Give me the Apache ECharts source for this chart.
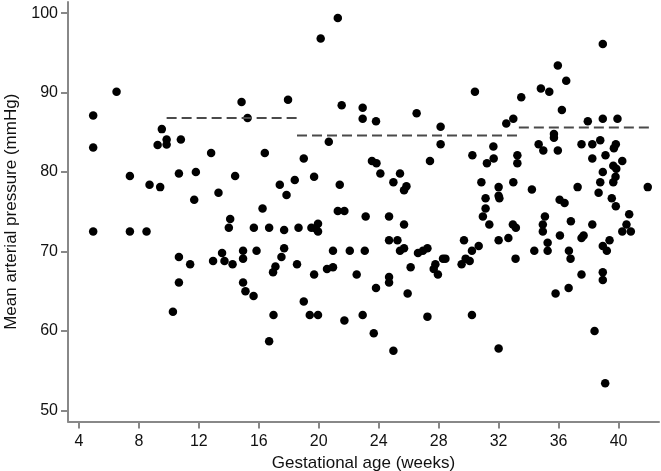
<!DOCTYPE html>
<html>
<head>
<meta charset="utf-8">
<script src="https://cdn.jsdelivr.net/npm/echarts@6/dist/echarts.min.js"></script>
<style>
	html, body { margin: 0; padding: 0; background: #fff; }
	#chart { width: 661px; height: 471px; }
</style>
</head>
<body>
<div id="chart"></div>
<script>
// gestational age (weeks) and mean arterial pressure (mmHg)
var gestAge = [
	4.95,4.95,6.51,9.25,9.53,9.85,9.85,10.8,12.82,13.31,
	7.4,8.71,9.42,10.67,11.8,11.69,4.95,7.4,8.51,10.67,
	10.67,11.42,10.27,12.95,13.55,
	14.85,15.25,17.95,20.13,21.27,21.53,22.93,22.93,20.67,
	16.4,19.0,14.42,17.4,18.4,19.69,17.85,21.4,16.25,21.27,21.71,23.13,
	14.09,14.0,15.67,16.69,17.69,18.65,19.51,19.95,19.8,19.95,
	14.95,15.85,17.69,17.51,20.95,22.07,23.07,13.71,14.25,14.95,17.11,16.95,18.55,19.69,20.55,20.95,22.53,14.95,
	15.11,15.65,16.98,16.69,19.0,19.4,19.95,21.71,22.93,
	23.82,26.53,28.13,30.42,32.51,28.13,31.65,
	30.25,31.67,31.22,27.42,23.55,23.85,24.11,25.42,24.98,25.85,25.69,30.85,32.0,32.0,32.05,31.13,31.13,30.95,31.38,
	24.69,25.69,24.69,25.25,25.42,25.69,26.62,26.95,27.25,29.69,30.67,30.22,32.0,32.65,
	28.29,28.45,27.78,27.67,27.95,26.13,29.8,30.07,29.53,24.69,24.69,
	23.82,25.93,23.67,24.98,27.25,30.22,32.0,
	32.98,33.51,34.82,35.38,35.95,36.51,36.22,38.95,37.95,38.95,39.93,35.69,35.69,34.67,37.53,38.25,38.78,39.82,
	34.98,35.95,39.69,39.13,38.25,40.25,33.25,33.25,39.65,39.85,38.95,39.8,39.65,38.78,32.98,34.22,37.27,41.95,38.67,39.55,39.82,36.07,36.4,40.71,
	35.09,34.95,34.95,36.82,38.25,40.53,40.25,40.82,32.95,33.15,36.09,37.53,37.67,35.27,35.27,34.38,36.69,36.8,39.4,38.95,39.22,33.13,37.53,38.95,38.95,
	35.8,36.67,38.4,39.11
];
var meanPressure = [
	87.1,83.1,90.1,83.4,85.4,84.1,83.45,84.1,82.4,77.4,
	79.5,78.4,78.1,79.8,80.0,76.5,72.5,72.5,72.5,69.3,
	66.1,68.4,62.4,68.8,69.8,
	88.8,86.8,89.1,96.8,99.4,88.4,88.1,86.7,83.8,
	82.4,81.7,79.5,78.4,79.0,79.4,77.1,78.4,75.4,75.1,75.1,74.4,
	74.1,73.0,73.0,73.0,72.7,73.0,73.0,73.5,72.9,72.5,
	70.1,70.1,70.4,69.3,70.1,70.1,70.1,68.8,68.4,69.1,68.1,67.4,68.4,67.1,67.8,68.0,67.1,66.1,
	65.0,64.4,62.0,58.7,63.7,62.0,62.0,61.3,62.0,
	86.4,87.4,85.7,90.1,86.1,83.5,83.2,
	82.1,81.7,81.1,81.4,81.4,81.1,79.8,79.8,78.7,78.2,77.7,78.7,78.1,77.0,76.7,76.7,75.4,74.4,73.4,
	74.4,73.4,71.4,71.4,70.1,70.4,69.8,70.1,70.4,71.4,70.7,70.1,71.4,71.7,
	69.1,69.1,68.4,67.8,67.1,68.0,69.1,68.8,68.4,66.8,66.1,
	65.4,64.7,59.7,57.5,61.8,62.0,57.8,
	86.7,89.4,90.5,90.1,93.4,91.5,87.8,96.1,86.4,86.7,86.7,84.8,84.3,83.5,83.5,83.5,84.0,83.5,
	82.7,82.7,83.0,82.1,81.7,81.4,82.1,81.1,80.8,80.4,80.0,79.4,78.7,78.7,78.7,77.8,78.1,78.1,77.4,76.7,75.7,76.5,76.1,74.7,
	74.4,73.4,72.5,73.8,73.4,73.4,72.5,72.5,73.4,73.0,72.0,71.7,72.0,71.1,70.1,70.1,70.1,69.1,71.4,70.7,70.1,69.1,67.1,67.4,66.4,
	64.7,65.4,60.0,53.4
];

// dashed group means
var segStart = [9.85, 18.55, 33.35];
var segEnd = [18.55, 33.35, 42.1];
var segLevel = [86.8, 84.6, 85.6];

var xTicks = [4, 8, 12, 16, 20, 24, 28, 32, 36, 40];
var yTicks = [50, 60, 70, 80, 90, 100];

var points = [];
for (var i = 0; i < gestAge.length; i++) {
	points.push([gestAge[i], meanPressure[i]]);
}

var series = [{
	type: 'scatter',
	data: points,
	symbolSize: 8.5,
	itemStyle: { color: '#000', opacity: 1 },
	silent: true
}];
for (var j = 0; j < segLevel.length; j++) {
	series.push({
		type: 'line',
		data: [[segStart[j], segLevel[j]], [segEnd[j], segLevel[j]]],
		symbol: 'none',
		lineStyle: { color: '#4a4a4a', width: 2, type: [10, 5] },
		silent: true
	});
}

var axisFont = { color: '#111', fontSize: 16, fontFamily: 'Liberation Sans, Arial, sans-serif' };
var nameFont = { color: '#111', fontSize: 17, fontFamily: 'Liberation Sans, Arial, sans-serif' };

var option = {
	animation: false,
	grid: { left: 68, right: 2, top: 2, bottom: 49.5, containLabel: false, outerBoundsMode: 'none' },
	xAxis: {
		type: 'value',
		min: 3.27,
		max: 42.7,
		name: 'Gestational age (weeks)',
		nameLocation: 'middle',
		nameGap: 30,
		nameTextStyle: nameFont,
		axisLine: { show: true, lineStyle: { color: '#888', width: 2 } },
		axisTick: { show: true, length: 7, customValues: xTicks, lineStyle: { color: '#888', width: 2 } },
		axisLabel: Object.assign({ customValues: xTicks, margin: 12 }, axisFont),
		splitLine: { show: false }
	},
	yAxis: {
		type: 'value',
		min: 48.6,
		max: 101.4,
		name: 'Mean arterial pressure (mmHg)',
		nameLocation: 'middle',
		nameGap: 48,
		nameTextStyle: nameFont,
		axisLine: { show: true, lineStyle: { color: '#888', width: 2 } },
		axisTick: { show: true, length: 7, customValues: yTicks, lineStyle: { color: '#888', width: 2 } },
		axisLabel: Object.assign({ customValues: yTicks, margin: 10 }, axisFont),
		splitLine: { show: false }
	},
	series: series
};

var chart = echarts.init(document.getElementById('chart'));
chart.setOption(option);
</script>
</body>
</html>
